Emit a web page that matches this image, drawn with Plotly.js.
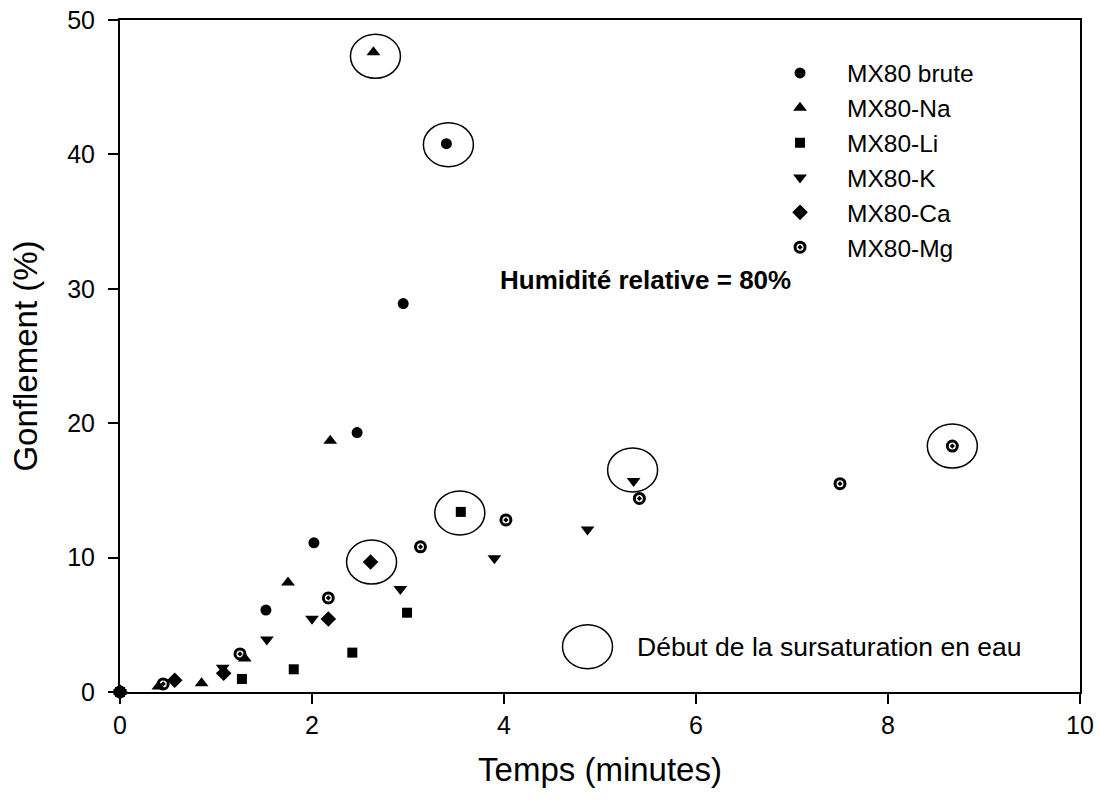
<!DOCTYPE html>
<html>
<head>
<meta charset="utf-8">
<script src="https://cdn.plot.ly/plotly-3.0.1.min.js"></script>
<style>html,body{margin:0;padding:0;background:#fff;}#chart{width:1100px;height:805px;}</style>
</head>
<body>
<div id="chart"></div>
<script>
// ---- Data ----
const seriesNames = ["MX80 brute", "MX80-Na", "MX80-Li", "MX80-K", "MX80-Ca", "MX80-Mg"];

const bruteX = [0, 1.52, 2.02, 2.47, 2.95, 3.40];
const bruteY = [0, 6.1, 11.1, 19.3, 28.9, 40.8];

const naX = [0, 0.40, 0.85, 1.30, 1.75, 2.19, 2.64];
const naY = [0, 0.4, 0.65, 2.5, 8.15, 18.7, 47.6];

const liX = [0, 1.27, 1.81, 2.42, 2.99, 3.55];
const liY = [0, 0.97, 1.69, 2.93, 5.9, 13.4];

const kX = [0, 1.07, 1.53, 2.00, 2.92, 3.90, 4.87, 5.35];
const kY = [0, 1.8, 3.9, 5.45, 7.66, 9.95, 12.1, 15.7];

const caX = [0, 0.57, 1.08, 2.17, 2.61];
const caY = [0, 0.87, 1.4, 5.43, 9.67];

const mgX = [0, 0.45, 1.25, 2.17, 3.13, 4.02, 5.41, 7.50, 8.67];
const mgY = [0, 0.6, 2.83, 7.0, 10.8, 12.8, 14.4, 15.5, 18.3];

const xTicks = [0, 2, 4, 6, 8, 10];
const yTicks = [0, 10, 20, 30, 40, 50];

const annotationText = "Humidité relative = 80%";
const circleLegendText = "Début de la sursaturation en eau";
const xTitle = "Temps (minutes)";
const yTitle = "Gonflement (%)";

// ---- Styling ----
const FONT = "Liberation Sans, Arial, Helvetica, sans-serif";
const allX = [bruteX, naX, liX, kX, caX, mgX];
const allY = [bruteY, naY, liY, kY, caY, mgY];
const symbols = ["circle", "triangle-up", "square", "triangle-down", "diamond", "circle-open-dot"];
const sizes = [11, 12, 10, 12, 12, 10];
// pixel offsets of the "début de sursaturation" ellipse relative to the circled (last) point
const ellOff = [[2, -1], [2, -4], [-1, -1], [-1, 11], [1, 0], [0, 0]];

const traces = seriesNames.map((name, i) => ({
  type: "scatter",
  mode: "markers",
  name: name,
  x: allX[i],
  y: allY[i],
  cliponaxis: false,
  marker: {
    symbol: symbols[i],
    size: sizes[i],
    color: "#000",
    line: i === 5 ? {color: "#000", width: 3} : {width: 0}
  }
}));

const shapes = [];
allX.forEach((xs, i) => {
  const last = xs.length - 1;
  shapes.push({
    type: "circle", xref: "x", yref: "y",
    xsizemode: "pixel", ysizemode: "pixel",
    xanchor: xs[last], yanchor: allY[i][last],
    x0: -25 + ellOff[i][0], x1: 25 + ellOff[i][0],
    y0: -22 + ellOff[i][1], y1: 22 + ellOff[i][1],
    line: {color: "#000", width: 1.5}
  });
});
// legend ellipse for the note
shapes.push({
  type: "circle", xref: "x", yref: "y",
  xsizemode: "pixel", ysizemode: "pixel",
  xanchor: 4.87, yanchor: 3.37,
  x0: -25, x1: 25, y0: -22, y1: 22,
  line: {color: "#000", width: 1.5}
});

const layout = {
  width: 1100, height: 805,
  margin: {l: 120, r: 20, t: 20, b: 113},
  paper_bgcolor: "#fff", plot_bgcolor: "#fff",
  font: {family: FONT, color: "#000", size: 25},
  showlegend: true,
  legend: {
    x: 0.6594, y: 0.9546, xanchor: "left", yanchor: "top",
    bgcolor: "rgba(0,0,0,0)",
    font: {family: FONT, size: 24.5, color: "#000"},
    itemwidth: 84
  },
  xaxis: {
    range: [0, 10], tickvals: xTicks, ticktext: xTicks.map(String),
    showgrid: false, zeroline: false,
    showline: true, linecolor: "#000", linewidth: 2, mirror: true,
    ticks: "outside", ticklen: 10, tickwidth: 2, tickcolor: "#000",
    tickfont: {family: FONT, size: 25, color: "#000"},
    title: {text: xTitle, font: {family: FONT, size: 33, color: "#000"}, standoff: 20},
    automargin: false, fixedrange: true
  },
  yaxis: {
    range: [0, 50], tickvals: yTicks, ticktext: yTicks.map(String),
    showgrid: false, zeroline: false,
    showline: true, linecolor: "#000", linewidth: 2, mirror: true,
    ticks: "outside", ticklen: 10, tickwidth: 2, tickcolor: "#000",
    tickfont: {family: FONT, size: 25, color: "#000"},
    ticklabelstandoff: 8,
    title: {text: yTitle, font: {family: FONT, size: 33, color: "#000"}, standoff: 20},
    automargin: false, fixedrange: true
  },
  shapes: shapes,
  annotations: [
    {xref: "x", yref: "y", x: 5.47, y: 30.65, text: "<b>" + annotationText + "</b>",
     showarrow: false, xanchor: "center", yanchor: "middle",
     font: {family: FONT, size: 26, color: "#000"}},
    {xref: "x", yref: "y", x: 5.36, y: 3.37, text: circleLegendText,
     showarrow: false, xanchor: "left", yanchor: "middle",
     font: {family: FONT, size: 26.5, color: "#000"}}
  ]
};

Plotly.newPlot("chart", traces, layout, {displayModeBar: false, staticPlot: true});
</script>
</body>
</html>
